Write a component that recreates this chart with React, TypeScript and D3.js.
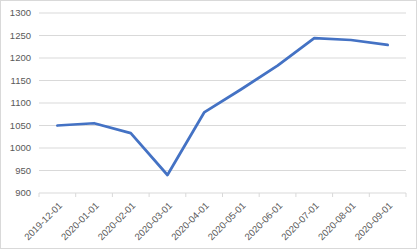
import React from "react";
import * as d3 from "d3";

const categories = ["2019-12-01","2020-01-01","2020-02-01","2020-03-01","2020-04-01","2020-05-01","2020-06-01","2020-07-01","2020-08-01","2020-09-01"];
const values = [1050, 1055, 1033, 940, 1079, 1130, 1183, 1244, 1240, 1229];
const yTicks = [900, 950, 1000, 1050, 1100, 1150, 1200, 1250, 1300];

const W = 420, H = 252;
const left = 39, right = 406, top = 13, bottom = 193;

export default function App() {
  const x = d3.scaleBand<string>().domain(categories).range([left, right]);
  const y = d3.scaleLinear().domain([900, 1300]).range([bottom, top]);
  const line = d3.line<number>()
    .x((_, i) => (x(categories[i]) as number) + x.bandwidth() / 2)
    .y((d) => y(d));
  const font = "'Liberation Sans', Arial, sans-serif";
  return (
    <div style={{ position: "fixed", left: 0, top: 0 }}>
      <svg width={W} height={H} style={{ display: "block", background: "#fff" }}>
        <rect x={0.5} y={0.5} width={W - 4} height={H - 4} fill="#fff" stroke="#d9d9d9" />
        {yTicks.map((t) => (
          <g key={t}>
            {t !== 900 && (
              <line x1={left} x2={right} y1={y(t)} y2={y(t)} stroke="#d9d9d9" strokeWidth={1} />
            )}
            <text x={31} y={y(t)} dy="0.35em" textAnchor="end" fontSize={9.5} fill="#595959" fontFamily={font}>{t}</text>
          </g>
        ))}
        <line x1={left} x2={right} y1={bottom} y2={bottom} stroke="#d9d9d9" />
        {categories.concat(["end"]).map((c, i) => {
          const xx = left + i * x.step();
          return <line key={c} x1={xx} x2={xx} y1={bottom} y2={bottom + 4} stroke="#d9d9d9" />;
        })}
        {categories.map((c) => {
          const cx = (x(c) as number) + x.bandwidth() / 2;
          return (
            <text key={c} transform={`translate(${cx + 3},${bottom + 11}) rotate(-45)`} textAnchor="end" dy="0.35em" fontSize={9.5} fill="#595959" fontFamily={font}>{c}</text>
          );
        })}
        <path d={line(values) || ""} fill="none" stroke="#4472C4" strokeWidth={2.75} strokeLinejoin="round" strokeLinecap="round" />
      </svg>
    </div>
  );
}
